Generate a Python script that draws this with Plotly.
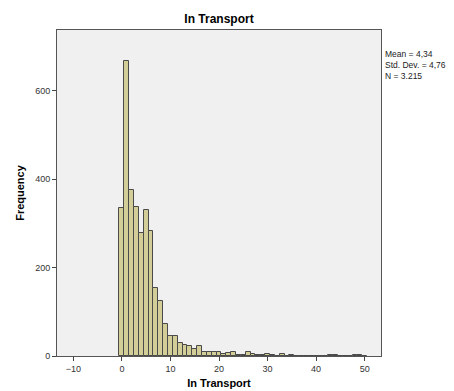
import plotly.graph_objects as go

bin_centers = list(range(0, 51))
counts = [335, 667, 375, 337, 279, 330, 283, 153, 124, 73,
          46, 46, 30, 25, 23, 15, 22, 9, 10, 8,
          10, 5, 6, 8, 3, 2, 10, 5, 3, 2,
          5, 2, 1, 5, 1, 2, 1, 0, 1, 0,
          1, 0, 1, 3, 3, 1, 0, 1, 3, 3, 1]
x_ticks = [-10, 0, 10, 20, 30, 40, 50]
y_ticks = [0, 200, 400, 600]
stats_lines = ["Mean = 4,34", "Std. Dev. = 4,76", "N = 3.215"]
title_text = "In Transport"

fig = go.Figure()
fig.add_trace(go.Bar(
    x=bin_centers, y=counts, width=1,
    marker=dict(color="#d3cd97", line=dict(color="#4a4a4a", width=1)),
))

font_family = "Liberation Sans, Arial, sans-serif"
fig.update_layout(
    width=454, height=391,
    margin=dict(l=57, r=73, t=30, b=35, autoexpand=False),
    paper_bgcolor="white", plot_bgcolor="#f0f0f0",
    showlegend=False, bargap=0,
    title=dict(text="<b>" + title_text + "</b>", x=(57 + 381) / 2 / 454, xanchor="center",
               y=1 - 19 / 391, yanchor="middle",
               font=dict(family=font_family, size=12, color="black")),
    font=dict(family=font_family, size=9, color="#333"),
)
fig.update_xaxes(
    range=[-13.37, 53.37], tickvals=x_ticks, ticks="outside", ticklen=4,
    tickcolor="#444", showgrid=False, zeroline=False, automargin=False,
    showline=True, mirror=True, linecolor="#555", linewidth=1,
    tickfont=dict(size=9, color="#333"),
    title=dict(text="<b>" + title_text + "</b>", standoff=6,
               font=dict(size=11, color="black")),
)
fig.update_yaxes(
    range=[0, 738], tickvals=y_ticks, ticks="outside", ticklen=4,
    tickcolor="#444", showgrid=False, zeroline=False, automargin=False,
    showline=True, mirror=True, linecolor="#555", linewidth=1,
    tickfont=dict(size=9, color="#333"),
    title=dict(text="<b>Frequency</b>", standoff=8,
               font=dict(size=11, color="black")),
)
fig.add_annotation(
    text="<br>".join(stats_lines), xref="paper", yref="paper",
    x=1.0, y=1 - 17 / 326, xanchor="left", yanchor="top", xshift=2,
    showarrow=False, align="left",
    font=dict(size=8.5, color="#222"),
)
fig.write_html("out.html", config={"displayModeBar": False},
               post_script="document.body.style.margin='0';document.body.style.padding='0';")
